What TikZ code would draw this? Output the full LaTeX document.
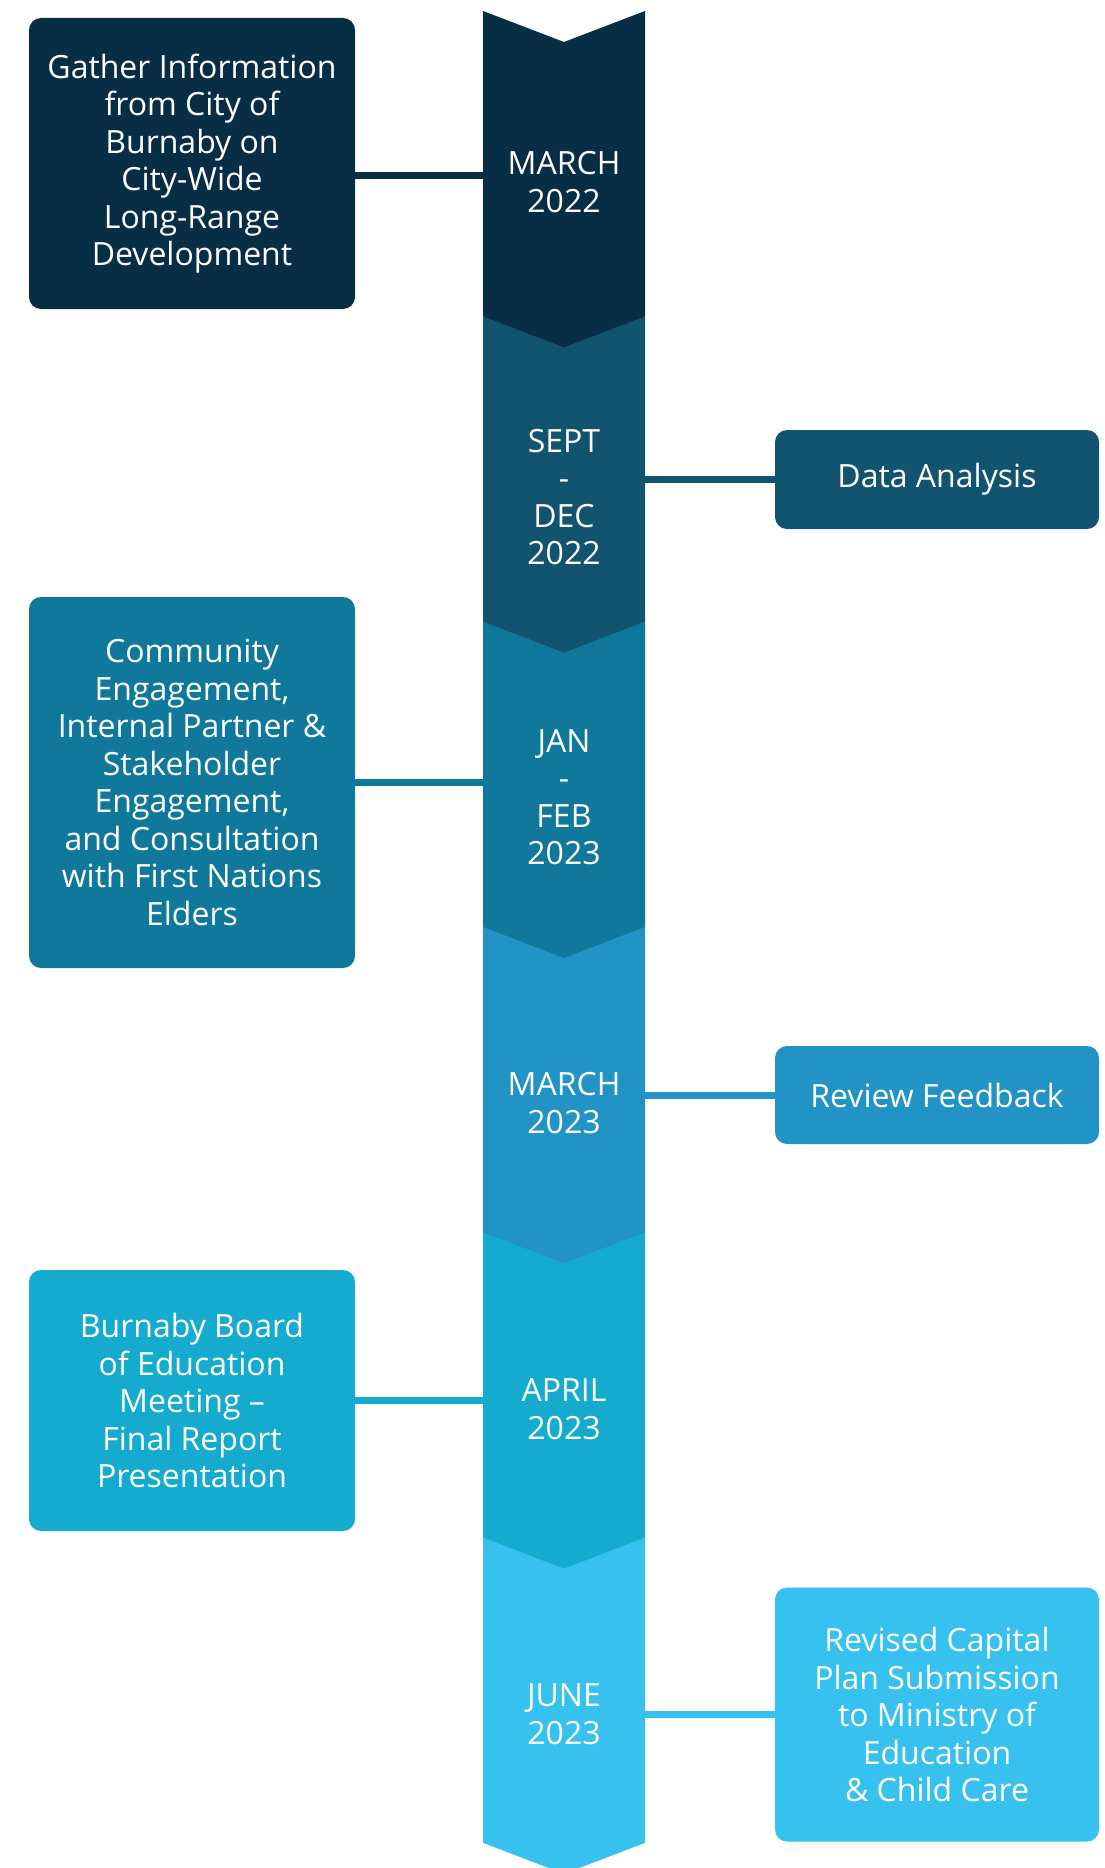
\documentclass[tikz,border=0pt]{standalone}
\usepackage{fontspec}
\setmainfont{Open Sans}
\usepackage{tikz}

\definecolor{tone1}{HTML}{082E46}
\definecolor{tone2}{HTML}{125470}
\definecolor{tone3}{HTML}{10789A}
\definecolor{tone4}{HTML}{2193C4}
\definecolor{tone5}{HTML}{14ABCF}
\definecolor{tone6}{HTML}{37C1EE}

\begin{document}
\begin{tikzpicture}[x = 0.5pt, y = -0.5pt,
		every node/.style = {text = white, font = \fontsize{16}{18.75}\selectfont},
		task/.style = {rounded corners = 6pt, align = center, inner sep = 0pt, minimum width = 163pt},
		date/.style = {align = center},
		link/.style = {line width = 3.5pt}]
			\useasboundingbox (0,0) rectangle (1104,1868);
			
			\fill [tone6] (483,1537.5) -- (645,1537.5) -- (645,1842.8) -- (564,1873.8) -- (483,1842.8) -- cycle;
			\fill [tone5] (483,1232.2) -- (645,1232.2) -- (645,1537.5) -- (564,1568.5) -- (483,1537.5) -- cycle;
			\fill [tone4] (483,926.9) -- (645,926.9) -- (645,1232.2) -- (564,1263.2) -- (483,1232.2) -- cycle;
			\fill [tone3] (483,621.6) -- (645,621.6) -- (645,926.9) -- (564,957.9) -- (483,926.9) -- cycle;
			\fill [tone2] (483,316.3) -- (645,316.3) -- (645,621.6) -- (564,652.6) -- (483,621.6) -- cycle;
			\fill [tone1] (483,11) -- (564,42) -- (645,11) -- (645,316.3) -- (564,347.3) -- (483,316.3) -- cycle;
			
			\node [date] (d1) at (564,182) {MARCH\\2022};
			\node [date] (d2) at (564,497) {SEPT\\-\\DEC\\2022};
			\node [date] (d3) at (564,797) {JAN\\-\\FEB\\2023};
			\node [date] (d4) at (564,1103) {MARCH\\2023};
			\node [date] (d5) at (564,1409) {APRIL\\2023};
			\node [date] (d6) at (564,1714) {JUNE\\2023};
			
			\node [task, fill = tone1, minimum height = 145.5pt] (gather) at (192,163.5) {Gather Information\\from City of\\Burnaby on\\City-Wide\\Long-Range\\Development};
			\node [task, fill = tone2, minimum height = 49.5pt, minimum width = 162pt] (analysis) at (937,479.5) {Data Analysis};
			\node [task, fill = tone3, minimum height = 185.5pt] (engage) at (192,782.5) {Community\\Engagement,\\Internal Partner \&\\Stakeholder\\Engagement,\\and Consultation\\with First Nations\\Elders};
			\node [task, fill = tone4, minimum height = 49pt, minimum width = 162pt] (review) at (937,1095) {Review Feedback};
			\node [task, fill = tone5, minimum height = 130.5pt] (board) at (192,1400.5) {Burnaby Board\\of Education\\Meeting --\\Final Report\\Presentation};
			\node [task, fill = tone6, minimum height = 127pt, minimum width = 162pt] (submit) at (937,1714.5) {Revised Capital\\Plan Submission\\to Ministry of\\Education\\\& Child Care};
			
			\coordinate (t1) at (483,175);
			\coordinate (t2) at (645,479.5);
			\coordinate (t3) at (483,782.5);
			\coordinate (t4) at (645,1095);
			\coordinate (t5) at (483,1400.5);
			\coordinate (t6) at (645,1714.5);
			
			\draw [link, tone1] (gather.east |- t1) -- (t1);
			\draw [link, tone2] (t2) -- (analysis.west |- t2);
			\draw [link, tone3] (engage.east |- t3) -- (t3);
			\draw [link, tone4] (t4) -- (review.west |- t4);
			\draw [link, tone5] (board.east |- t5) -- (t5);
			\draw [link, tone6] (t6) -- (submit.west |- t6);
		\end{tikzpicture}
\end{document}
